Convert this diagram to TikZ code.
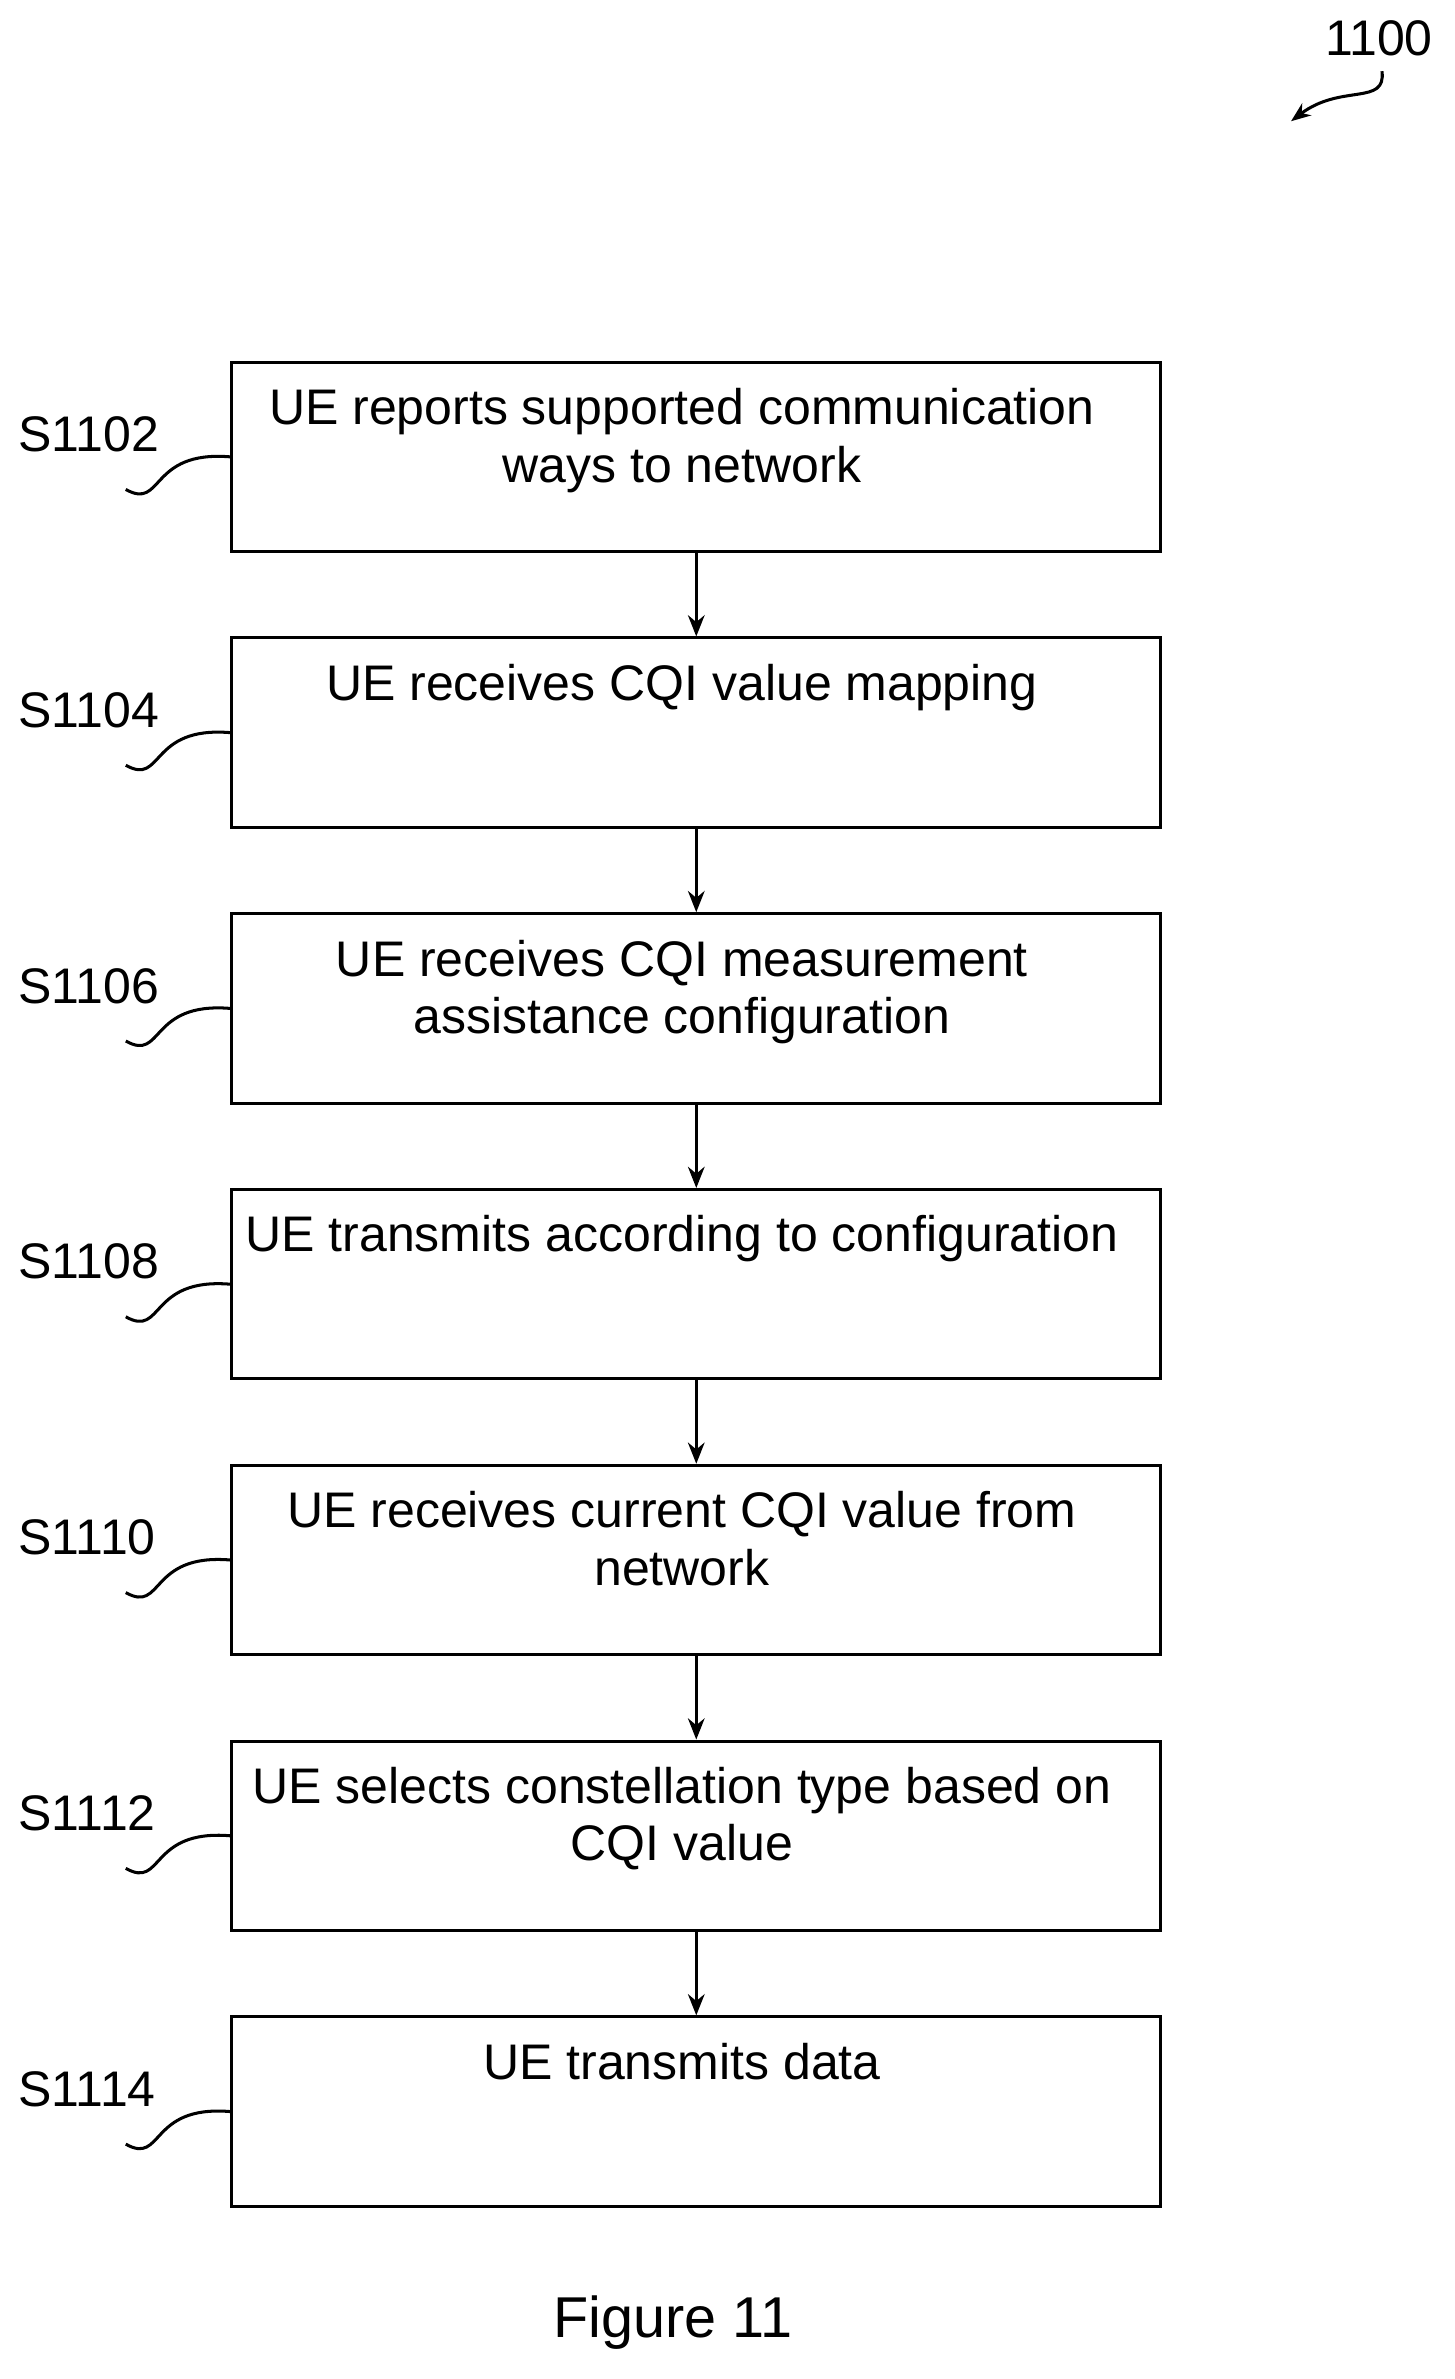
\documentclass[tikz,border=0pt]{standalone}
\usepackage{fontspec}
\setmainfont{Liberation Sans}
\usetikzlibrary{arrows.meta}
\tikzset{
  stepbox/.style={draw, line width=2pt, minimum width=613pt, minimum height=125pt, inner sep=0pt},
  steptext/.style={anchor=north, align=center, font=\fontsize{33}{38}\selectfont, inner sep=0pt},
  steplabel/.style={anchor=base west, font=\fontsize{33}{38}\selectfont, inner sep=0pt},
  flow/.style={line width=2pt, -{Stealth[length=14pt,width=11pt]}}
}
\begin{document}
\begin{tikzpicture}[x=1pt,y=-1pt]
\useasboundingbox (0,0) rectangle (960,1570);

% steps
\foreach \i/\t/\lab in {1/{UE reports supported communication\\ways to network}/S1102,
  2/{UE receives CQI value mapping}/S1104,
  3/{UE receives CQI measurement\\assistance configuration}/S1106,
  4/{UE transmits according to configuration}/S1108,
  5/{UE receives current CQI value from\\network}/S1110,
  6/{UE selects constellation type based on\\CQI value}/S1112,
  7/{UE transmits data}/S1114}{
  \pgfmathsetmacro{\ytop}{239+182*(\i-1)}
  \node[stepbox] (box\i) at (459.5,\ytop+62.5) {};
  \node[steptext] (txt\i) at (450,\ytop+17) {\t};
  \node[steplabel] (lab\i) at (12,\ytop+59) {\lab};
  \coordinate (sq\i) at (83,\ytop+84);
  \draw[line width=2pt] (sq\i) .. controls (108,\ytop+98) and (98,\ytop+58) .. (box\i.west);
}

\foreach \i [evaluate=\i as \j using int(\i+1)] in {1,...,6}
  \draw[flow] (box\i.south) -- (box\j.north);

% figure number
\node[font=\fontsize{38}{44}\selectfont, inner sep=0pt] (fig) at (444,1533) {Figure 11};
\node[font=\fontsize{33}{38}\selectfont, inner sep=0pt] (ref) at (910,25) {1100};
\coordinate (refa) at (912,47);
\coordinate (refb) at (852,80);
\draw[line width=2pt, -{Stealth[length=13pt,width=10pt]}] (refa) .. controls (915,70) and (885,55) .. (refb);
\end{tikzpicture}
\end{document}
